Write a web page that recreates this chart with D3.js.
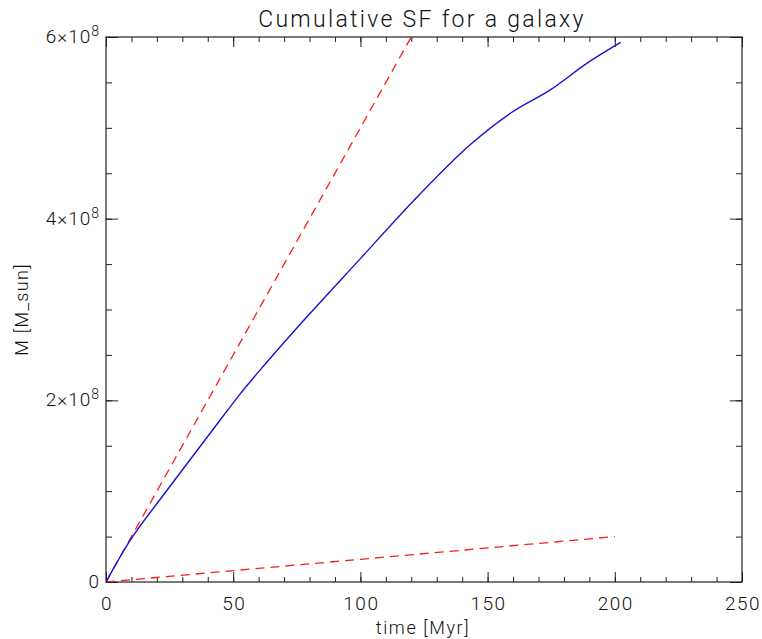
<!DOCTYPE html>
<html><head><meta charset="utf-8">
<script src="https://cdn.jsdelivr.net/npm/d3@7"></script>
<style>
html,body{margin:0;padding:0;background:#fff;}
text{font-family:Roboto,"DejaVu Sans",sans-serif;font-weight:300;fill:#111;}
</style></head>
<body><svg id="c" width="762" height="639"></svg>
<script>
// Data
const blueT = [0, 10, 24, 41, 53, 62, 79, 100, 121, 143, 160, 174.5, 189, 202.3];
const blueM = [0, 0.48e8, 1.01e8, 1.64e8, 2.08e8, 2.38e8, 2.92e8, 3.56e8, 4.2e8, 4.81e8, 5.18e8, 5.415e8, 5.71e8, 5.94e8];
const upperT = [0, 200];
const upperM = [0, 10e8];
const lowerT = [0, 200];
const lowerM = [0, 0.5e8];
const xTicks = [0, 50, 100, 150, 200, 250];
const yTicks = [0, 2e8, 4e8, 6e8];
const yTickLabels = [["0",""],["2×10","8"],["4×10","8"],["6×10","8"]];
const title = "Cumulative SF for a galaxy";
const xTitle = "time [Myr]";
const yTitle = "M [M_sun]";

const L = 106, R = 742, T = 37, B = 582;
const svg = d3.select("#c");
const x = d3.scaleLinear().domain([0, 250]).range([L, R]);
const y = d3.scaleLinear().domain([0, 6e8]).range([B, T]);

svg.append("defs").append("clipPath").attr("id","clip")
  .append("rect").attr("x",L).attr("y",T).attr("width",R-L).attr("height",B-T);

const axCol = "#222";
const xMinor = d3.range(0, 251, 10);
const yMinor = d3.range(0, 6e8 + 1, 0.5e8);

function styleAxis(g){
  g.select(".domain").remove();
  g.selectAll(".tick line").attr("stroke", axCol).attr("stroke-width", 1);
  g.selectAll("text").remove();
}
svg.append("g").attr("transform",`translate(0,${B})`).call(d3.axisBottom(x).tickValues(xMinor).tickSize(-5)).call(styleAxis);
svg.append("g").attr("transform",`translate(0,${B})`).call(d3.axisBottom(x).tickValues(xTicks).tickSize(-10)).call(styleAxis);
svg.append("g").attr("transform",`translate(0,${T})`).call(d3.axisTop(x).tickValues(xMinor).tickSize(-5)).call(styleAxis);
svg.append("g").attr("transform",`translate(0,${T})`).call(d3.axisTop(x).tickValues(xTicks).tickSize(-10)).call(styleAxis);
svg.append("g").attr("transform",`translate(${L},0)`).call(d3.axisLeft(y).tickValues(yMinor).tickSize(-6)).call(styleAxis);
svg.append("g").attr("transform",`translate(${L},0)`).call(d3.axisLeft(y).tickValues(yTicks).tickSize(-12)).call(styleAxis);
svg.append("g").attr("transform",`translate(${R},0)`).call(d3.axisRight(y).tickValues(yMinor).tickSize(-6)).call(styleAxis);
svg.append("g").attr("transform",`translate(${R},0)`).call(d3.axisRight(y).tickValues(yTicks).tickSize(-12)).call(styleAxis);

svg.append("rect").attr("x",L).attr("y",T).attr("width",R-L).attr("height",B-T)
  .attr("fill","none").attr("stroke",axCol).attr("stroke-width",1.2);

svg.selectAll(".xl").data(xTicks).enter().append("text")
  .attr("x", d => x(d) + 1).attr("y", B + 28).attr("text-anchor","middle")
  .attr("font-size", 19).attr("letter-spacing", 1.5).text(d => d);

yTicks.forEach((d,i) => {
  const t = svg.append("text").attr("x", L - 6).attr("y", y(d) + 6).attr("text-anchor","end").attr("font-size",19).attr("letter-spacing",1);
  t.append("tspan").text(yTickLabels[i][0]);
  if (yTickLabels[i][1]) t.append("tspan").attr("dy",-7).attr("font-size",14).text(yTickLabels[i][1]);
});

svg.append("text").attr("x", (L+R)/2 - 2).attr("y", 27).attr("text-anchor","middle")
  .attr("font-size", 23).attr("letter-spacing", 2.3).text(title);
svg.append("text").attr("x", (L+R)/2 - 1).attr("y", 634).attr("text-anchor","middle")
  .attr("font-size", 18).attr("letter-spacing", 1.6).text(xTitle);
svg.append("text").attr("transform", `translate(28,${(T+B)/2}) rotate(-90)`).attr("text-anchor","middle")
  .attr("font-size", 18).attr("letter-spacing", 1.3).text(yTitle);

const line = d3.line().x(d => x(d[0])).y(d => y(d[1]));
const plot = svg.append("g").attr("clip-path","url(#clip)");
plot.append("path").datum(upperT.map((t,i)=>[t,upperM[i]])).attr("d", line)
  .attr("fill","none").attr("stroke","#ff1a1a").attr("stroke-width",1.3).attr("stroke-dasharray","9,6");
plot.append("path").datum(lowerT.map((t,i)=>[t,lowerM[i]])).attr("d", line)
  .attr("fill","none").attr("stroke","#ff1a1a").attr("stroke-width",1.3).attr("stroke-dasharray","9,6");
plot.append("path").datum(blueT.map((t,i)=>[t,blueM[i]])).attr("d", d3.line().x(d => x(d[0])).y(d => y(d[1])).curve(d3.curveCatmullRom.alpha(0.5)))
  .attr("fill","none").attr("stroke","#1414d2").attr("stroke-width",1.4);
</script></body></html>
